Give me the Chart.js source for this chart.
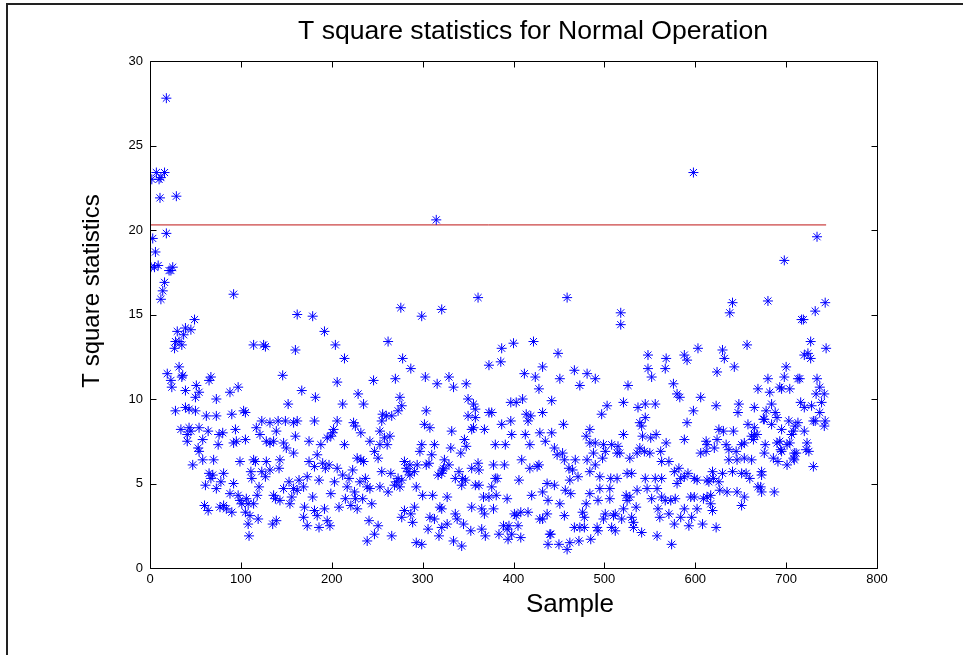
<!DOCTYPE html>
<html>
<head>
<meta charset="utf-8">
<title>T square statistics</title>
<script src="https://cdn.jsdelivr.net/npm/chart.js@4.4.1/dist/chart.umd.min.js"></script>
<style>
  html, body { margin: 0; padding: 0; background: #fff; }
  #wrap { position: relative; width: 963px; height: 655px; overflow: hidden; }
  #frame { position: absolute; left: 6px; top: 3px; right: -4px; bottom: -4px;
           border-top: 2px solid #222; border-left: 2px solid #222; pointer-events: none; }
</style>
</head>
<body>
<div id="wrap">
  <canvas id="tsq_chart" width="963" height="655"></canvas>
  <div id="frame"></div>
</div>
<script>
// sample number of each observation
var sampleNo = [
  1, 2, 3, 5, 6, 7, 9, 10, 11, 12,
  12, 14, 16, 16, 18, 18, 19, 21, 23, 23,
  24, 25, 27, 28, 28, 29, 30, 32, 32, 34,
  35, 35, 36, 37, 39, 39, 39, 41, 41, 43,
  43, 45, 45, 47, 49, 50, 50, 51, 53, 54,
  54, 54, 58, 58, 60, 61, 62, 64, 64, 65,
  65, 67, 67, 69, 70, 73, 73, 73, 75, 76,
  77, 78,
  80, 81, 81, 84, 88, 88, 90, 90, 92, 92,
  92, 94, 95, 97, 97, 99, 99, 101, 103, 105,
  105, 105, 106, 108, 108, 109, 110, 111, 112, 114,
  114, 114, 116, 117, 118, 119, 120, 121, 123, 123,
  125, 127, 127, 128, 128, 132, 132, 132, 135, 136,
  136, 138, 139, 139, 141, 142, 143, 143, 146, 147,
  147, 149, 150, 152, 153, 154, 156, 158, 158, 158,
  160, 160, 162, 162, 162, 164, 167, 169, 169, 170,
  173, 173, 175, 175, 179, 179, 181, 181, 181, 182,
  184, 184, 186, 186, 188, 190, 192, 192, 193, 195,
  195, 197, 198, 199, 199, 201, 202, 203, 204, 206,
  206, 206, 208, 212, 212, 214, 214, 215, 217, 219,
  221, 223, 224, 225, 226, 226, 228, 228, 229, 231,
  232, 232, 234, 235, 235, 237, 239, 239, 241, 242,
  242, 244, 246, 247, 247, 251, 251, 253, 253, 253,
  255, 255, 256, 258, 260, 261, 262, 262, 264, 265,
  266, 266, 269, 270, 271, 273, 273, 275, 275, 276,
  277, 277, 277, 278, 280, 280, 282, 284, 286, 286,
  287, 287, 289, 291, 291, 293, 293, 294, 297, 299,
  299, 299, 300, 302, 303, 304, 304, 306, 307, 308,
  308, 310, 311, 313, 313, 315, 316, 317, 318, 319,
  321, 322, 324,
  321, 321, 321, 323, 327, 327, 329, 329, 331, 332,
  334, 334, 336, 336, 338, 340, 342, 343, 343, 344,
  345, 346, 347, 348, 348, 350, 350, 353, 354, 354,
  354, 356, 356, 358, 358, 358, 361, 361, 362, 362,
  365, 365, 367, 368, 368, 369, 373, 373, 373, 376,
  376, 378, 378, 380, 380, 381, 382, 384, 386, 387,
  387, 389, 390, 391, 393, 393, 394, 395, 397, 397,
  398, 398, 400, 401, 403,
  403, 405, 406, 408, 408, 409, 410, 412, 413, 414,
  416, 416, 418, 418, 419, 420, 422, 424, 426, 428,
  428, 429, 429, 432, 432, 432, 432, 435, 437, 437,
  438, 438, 440, 441, 442, 442, 445, 445, 448, 449,
  450, 451, 451, 454, 455, 456, 456, 457, 459, 459,
  461, 462, 462, 463, 465, 467, 467, 468, 471, 472,
  473, 473, 476, 478, 478, 480, 480, 481, 481, 484,
  484, 484, 485,
  484, 488, 490, 490, 490, 492, 493, 493, 495, 495,
  497, 498, 499, 499, 501, 501, 503, 506, 506, 507,
  508, 508, 510, 512, 512, 514, 514, 515, 517, 518,
  518, 519, 521, 521, 521, 524, 525, 525, 526, 528,
  528, 530, 530, 532, 532, 535, 536, 536, 537, 539,
  539, 541, 541, 542, 544, 545, 545, 545, 547, 548,
  548, 550, 551, 552, 552, 556, 556, 557, 558, 558,
  559, 561, 562, 563, 563, 563, 567, 568, 568,
  567, 571, 571, 573, 574, 576, 577, 577, 578, 580,
  580, 582, 583, 584, 584, 588, 588, 588, 588, 591,
  591, 592, 593, 595, 596, 598, 598, 599, 599, 602,
  602, 603, 606, 606, 608, 609, 612, 612, 613, 613,
  613, 615, 617, 617, 619, 619, 620, 621, 623, 623,
  624, 624, 626, 626, 627, 630, 630, 631, 632, 634,
  635, 637, 637, 638, 641, 641, 642, 643, 645, 646,
  646, 647, 648,
  651, 651, 651, 654, 654, 654, 656, 657, 658, 660,
  662, 662, 664, 665, 665, 665, 668, 669, 669, 672,
  673, 673, 673, 675, 676, 676, 677, 678, 680, 680,
  682, 684, 684, 686, 687, 688, 690, 690, 691, 693,
  693, 694, 695, 695, 695, 698, 698, 700, 701, 701,
  703, 704, 704, 706, 708, 708, 709, 709, 710, 711,
  713, 713, 715, 716, 717, 719, 720, 720, 720, 722,
  723, 724, 725, 727, 727, 728, 730, 730, 732, 732,
  733, 734, 734, 737, 737, 739, 742, 742, 743, 743,
  744
];

// T square statistic for each observation (same order as sampleNo)
var tSquare = [
  17.8, 23.0, 19.5, 17.8, 18.7, 23.4, 17.9, 23.0, 21.9, 15.9,
  23.1, 16.4, 23.4, 16.9, 27.8, 19.8, 11.5, 17.6, 17.6, 11.1,
  10.7, 17.8, 13.0, 13.4, 9.3, 22.0, 14.0, 13.4, 11.9, 8.2,
  13.2, 11.3, 11.4, 13.8, 14.2, 10.5, 9.5, 7.9, 7.5, 9.4,
  8.3, 14.1, 8.1, 6.1, 14.7, 9.3, 10.1, 10.8, 7.1, 10.4,
  8.3, 6.9, 7.6, 6.4, 3.7, 4.9, 9.0, 8.1, 3.4, 11.1,
  5.6, 11.3, 5.3, 5.5, 6.4, 10.0, 9.0, 4.7, 7.3, 7.9,
  3.6, 5.1,
  8.0, 5.6, 3.7, 3.5, 10.4, 4.4, 9.1, 3.3, 16.2, 7.4,
  5.0, 8.2, 7.5, 10.7, 4.3, 6.3, 4.0, 3.8, 9.3, 9.2,
  7.6, 3.3, 4.1, 3.8, 2.6, 1.9, 3.1, 5.7, 5.3, 13.2,
  6.4, 3.8, 6.3, 8.3, 4.3, 2.9, 4.8, 7.9, 8.7, 5.7,
  13.2, 13.1, 5.4, 7.5, 6.3, 8.6, 7.4, 5.8, 2.6, 7.5,
  4.3, 4.1, 8.1, 2.8, 8.7, 5.9, 6.4, 4.0, 11.4, 7.4,
  4.7, 8.7, 7.1, 9.7, 5.1, 3.8, 4.2, 8.6, 6.8, 4.7,
  7.8, 12.9, 15.0, 8.7, 4.6, 5.2, 10.5, 4.8, 3.0, 3.6,
  5.4, 2.5, 7.5, 6.3, 14.9, 4.2, 8.7, 6.0, 3.4, 10.1,
  6.7, 3.1, 5.2, 2.4, 7.3, 6.2, 14.0, 3.5, 5.9, 7.7,
  2.8, 6.1, 2.5, 7.8, 4.4, 8.0, 8.2, 5.1, 13.2, 11.0,
  8.7, 5.9, 3.6, 9.7, 5.5, 7.3, 12.4, 4.1, 4.8, 5.3,
  3.7, 5.8, 8.6, 4.5, 8.4, 4.1, 6.5, 3.5, 10.3, 5.1,
  8.0, 6.4, 4.1, 9.7, 6.3, 5.3, 4.8, 1.6, 2.8, 7.5,
  4.7, 3.8, 11.1, 6.9, 2.0, 6.5, 2.5, 8.1, 7.3, 4.8,
  8.7, 5.7, 9.1, 7.7, 9.0, 7.3, 13.4, 4.5, 7.8, 5.6,
  9.0, 1.9, 4.9, 11.2, 5.1, 9.3, 5.3, 10.1, 4.8, 15.4,
  9.6, 5.2, 3.0, 12.4, 6.3, 3.4, 5.9, 5.7, 6.1, 5.5,
  11.8, 3.2, 2.7, 5.7, 3.6, 4.8, 1.5, 6.1, 6.9, 14.9,
  7.3, 1.4, 4.3, 8.5, 11.3, 9.3, 6.1, 2.3, 6.2, 8.3,
  3.0, 6.7, 4.3, 7.3, 2.9, 20.6, 10.9, 5.5, 1.9, 3.6,
  15.3, 5.8, 6.4,
  5.6, 3.5, 2.4, 5.9, 4.2, 2.6, 11.3, 6.1, 7.1, 8.1,
  10.7, 1.6, 5.3, 3.2, 2.9, 5.7, 6.8, 4.9, 1.3, 5.3,
  2.6, 7.6, 5.2, 10.9, 7.2, 10.0, 9.0, 2.2, 5.9, 8.2,
  3.6, 9.7, 8.3, 9.4, 8.9, 4.9, 16.0, 6.2, 4.9, 5.8,
  3.5, 2.3, 4.2, 8.2, 3.2, 1.9, 12.0, 9.2, 4.2, 9.2,
  4.8, 6.1, 3.5, 7.3, 5.3, 4.3, 5.3, 2.0, 12.2, 13.0,
  8.5, 2.5, 6.1, 7.3, 4.1, 2.3, 1.7, 2.5, 9.8, 8.7,
  7.9, 2.0, 13.3, 3.2, 9.8,
  3.1, 2.5, 5.2, 3.3, 1.8, 6.4, 10.0, 11.5, 7.9, 9.1,
  3.3, 8.7, 5.9, 7.3, 9.0, 4.3, 13.4, 11.3, 6.0, 10.6,
  6.1, 8.0, 2.9, 11.9, 9.2, 4.5, 2.9, 7.5, 5.0, 3.2,
  4.0, 1.4, 2.0, 2.0, 9.9, 8.0, 7.1, 4.9, 6.7, 12.7,
  1.4, 11.2, 3.8, 6.8, 8.5, 6.4, 3.1, 4.6, 16.0, 1.1,
  5.9, 5.2, 1.5, 4.4, 5.8, 11.7, 2.4, 6.4, 5.4, 1.6,
  10.8, 2.4, 3.3, 3.0, 2.4, 7.8, 3.8, 11.5, 6.4, 8.2,
  7.4, 4.4, 1.7,
  5.7, 6.8, 11.2, 7.4, 6.1, 2.4, 4.0, 2.2, 5.4, 4.7,
  9.1, 6.5, 7.3, 2.9, 6.9, 3.2, 9.6, 4.7, 4.1, 5.3,
  7.3, 2.4, 3.1, 3.2, 2.2, 5.3, 6.8, 7.2, 6.8, 15.1,
  14.4, 2.9, 9.8, 7.9, 3.5, 4.3, 5.6, 4.0, 10.8, 6.5,
  4.2, 5.6, 3.0, 2.7, 2.4, 3.6, 6.8, 4.6, 9.5, 8.6,
  7.1, 8.4, 2.1, 7.8, 6.9, 9.7, 8.9, 5.3, 4.7, 12.6,
  11.8, 6.8, 7.7, 11.3, 4.1, 9.7, 5.3, 7.9, 4.7, 1.9,
  3.5, 3.0, 6.9, 6.3, 5.3, 4.2, 11.8, 12.4, 7.4,
  4.0, 6.3, 3.2, 4.0, 1.4, 10.9, 5.7, 2.6, 4.1, 10.3,
  5.0, 5.9, 10.1, 5.3, 3.0, 12.6, 7.6, 5.4, 3.5, 12.3,
  8.6, 5.6, 2.5, 4.2, 3.0, 23.4, 9.3, 5.3, 4.2, 5.2,
  3.5, 13.0, 10.1, 6.8, 2.6, 4.1, 7.5, 6.9, 5.2, 4.2,
  7.3, 5.1, 4.3, 3.8, 5.7, 3.4, 5.3, 7.1, 9.6, 2.4,
  11.6, 7.6, 8.2, 5.1, 4.6, 12.9, 5.6, 8.1, 12.4, 7.3,
  4.5, 7.0, 6.4, 15.1, 15.7, 5.7, 8.1, 11.9, 6.9, 4.5,
  6.4, 9.2, 9.7,
  7.3, 5.6, 3.7, 7.4, 6.5, 4.2, 5.6, 13.2, 8.5, 5.3,
  7.8, 6.4, 7.6, 8.3, 9.5, 7.9, 7.9, 10.6, 4.8, 4.8,
  5.7, 4.5, 5.5, 8.8, 8.8, 6.8, 7.3, 9.3, 15.8, 11.2,
  10.4, 9.7, 8.5, 6.5, 4.5, 9.2, 8.9, 7.4, 6.3, 10.7,
  7.5, 7.0, 10.6, 6.9, 8.2, 11.3, 18.2, 11.9, 7.3, 6.1,
  8.7, 10.6, 7.4, 7.9, 8.1, 6.5, 6.8, 6.4, 8.4, 6.8,
  11.2, 8.6, 11.2, 9.8, 14.7, 14.7, 8.1, 12.6, 9.5, 7.0,
  7.4, 12.7, 6.9, 13.4, 12.4, 9.6, 8.7, 6.0, 8.7, 15.2,
  10.3, 19.6, 11.2, 10.7, 9.2, 9.8, 10.3, 8.4, 15.7, 8.7,
  13.0
];

// control limit and the sample range it is drawn over
var limitValue = 20.3;
var limitRange = [1, 744];

// axis tick labels
var xTicks = [0, 100, 200, 300, 400, 500, 600, 700, 800];
var yTicks = [0, 5, 10, 15, 20, 25, 30];

var fontFamily = "'Liberation Sans', Arial, sans-serif";

var points = sampleNo.map(function (s, i) { return { x: s, y: tSquare[i] }; });

// closed axes box with inward ticks on all four sides, plus title and axis labels
var axesBox = {
  id: 'axesBox',
  afterDatasetsDraw: function (chart) {
    var ctx = chart.ctx;
    var a = chart.chartArea;
    var xs = chart.scales.x, ys = chart.scales.y;
    var L = Math.round(a.left) + 0.5, R = Math.round(a.right) + 0.5;
    var T = Math.round(a.top) + 0.5, B = Math.round(a.bottom) + 0.5;
    ctx.save();
    ctx.strokeStyle = '#000';
    ctx.lineWidth = 1;
    ctx.beginPath();
    ctx.rect(L, T, R - L, B - T);
    xTicks.forEach(function (v) {
      var px = Math.round(xs.getPixelForValue(v)) + 0.5;
      ctx.moveTo(px, B); ctx.lineTo(px, B - 6);
      ctx.moveTo(px, T); ctx.lineTo(px, T + 6);
    });
    yTicks.forEach(function (v) {
      var py = Math.round(ys.getPixelForValue(v)) + 0.5;
      ctx.moveTo(L, py); ctx.lineTo(L + 6, py);
      ctx.moveTo(R, py); ctx.lineTo(R - 6, py);
    });
    ctx.stroke();

    ctx.fillStyle = '#000';
    ctx.textAlign = 'center';
    ctx.textBaseline = 'middle';
    ctx.font = '26.6px ' + fontFamily;
    ctx.fillText('T square statistics for Normal Operation', 533, 32);
    ctx.font = '26px ' + fontFamily;
    ctx.fillText('Sample', 570, 605);
    ctx.translate(92, 291);
    ctx.rotate(-Math.PI / 2);
    ctx.font = '24px ' + fontFamily;
    ctx.fillText('T square statistics', 0, 0);
    ctx.restore();
  }
};

var ctx = document.getElementById('tsq_chart').getContext('2d');
new Chart(ctx, {
  type: 'scatter',
  data: {
    datasets: [
      {
        data: points,
        pointStyle: 'star',
        pointRadius: 5,
        borderColor: 'rgb(0,0,255)',
        backgroundColor: 'rgb(0,0,255)',
        borderWidth: 1
      },
      {
        type: 'line',
        data: [{ x: limitRange[0], y: limitValue }, { x: limitRange[1], y: limitValue }],
        borderColor: 'rgb(190,20,20)',
        borderWidth: 1,
        pointRadius: 0,
        fill: false
      }
    ]
  },
  options: {
    responsive: false,
    animation: false,
    layout: { padding: { top: 61, right: 86, bottom: 0, left: 0 } },
    plugins: {
      legend: { display: false },
      tooltip: { enabled: false },
      title: { display: false }
    },
    scales: {
      x: {
        type: 'linear',
        min: 0,
        max: 800,
        afterBuildTicks: function (s) { s.ticks = xTicks.map(function (v) { return { value: v }; }); },
        afterFit: function (s) { s.height = 87; },
        grid: { display: false, drawTicks: false },
        border: { display: false },
        ticks: { color: '#000', padding: 4, maxRotation: 0, autoSkip: false, font: { family: fontFamily, size: 13 } }
      },
      y: {
        type: 'linear',
        min: 0,
        max: 30,
        afterBuildTicks: function (s) { s.ticks = yTicks.map(function (v) { return { value: v }; }); },
        afterFit: function (s) { s.width = 150; },
        grid: { display: false, drawTicks: false },
        border: { display: false },
        ticks: { color: '#000', padding: 7, font: { family: fontFamily, size: 13 } }
      }
    }
  },
  plugins: [axesBox]
});
</script>
</body>
</html>
